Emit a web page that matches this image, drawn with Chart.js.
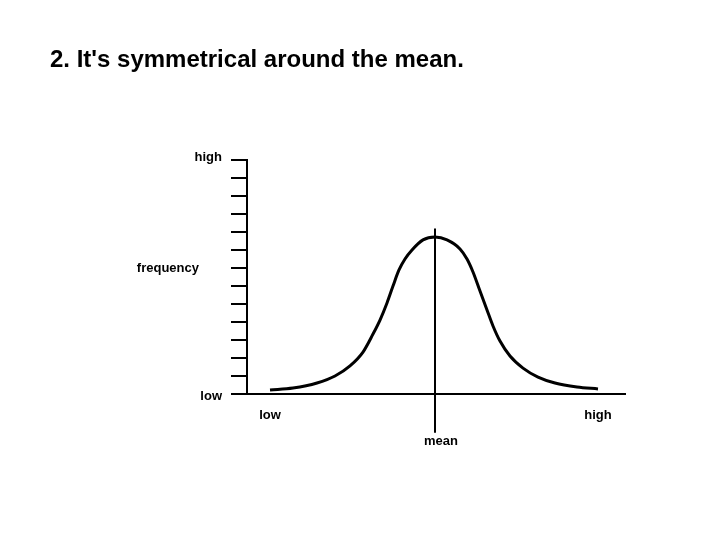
<!DOCTYPE html>
<html>
<head>
<meta charset="utf-8">
<script src="https://cdn.jsdelivr.net/npm/chart.js@4"></script>
<style>
    html, body { margin: 0; padding: 0; background: #fff; }
    #wrap { width: 720px; height: 540px; position: relative; }
</style>
</head>
<body>
<div id="wrap"><canvas id="normalChart" width="720" height="540"></canvas></div>
<script>
// title
var titleText = "2. It's symmetrical around the mean.";

// curve (x in score units, y in frequency ticks)
var curveX = [23, 46, 70, 88, 103, 116, 126, 133, 140, 146, 152, 158, 165, 176, 188, 200, 213, 220, 226, 233, 240, 246, 253, 263, 276, 291, 308, 330, 351];
var curveY = [0.22, 0.33, 0.61, 1.0, 1.56, 2.33, 3.33, 4.11, 5.06, 6.0, 6.89, 7.5, 8.0, 8.56, 8.72, 8.56, 8.06, 7.5, 6.78, 5.72, 4.67, 3.78, 2.94, 2.11, 1.44, 0.94, 0.61, 0.39, 0.28];

// mean marker
var meanX = 188;
var meanLineY = [9.2, -2.15];

// axis labels
var yAxisLabels = ['low', 'frequency', 'high'];
var yAxisLabelValues = [0, 7, 13];
var xAxisLabels = ['low', 'mean', 'high'];
var xAxisLabelValues = [23, 188, 351];

var curvePoints = curveX.map(function (x, i) { return { x: x, y: curveY[i] }; });
var meanPoints = meanLineY.map(function (y) { return { x: meanX, y: y }; });

var labelFont = 'bold 13px "Liberation Sans", Arial, sans-serif';

// draws the title and the word labels on the axes
var labelsPlugin = {
    id: 'labelsPlugin',
    afterDraw: function (chart) {
        var ctx = chart.ctx;
        var xs = chart.scales.x;
        var ys = chart.scales.y;
        ctx.save();
        ctx.fillStyle = '#000';
        ctx.font = 'bold 24px "Liberation Sans", Arial, sans-serif';
        ctx.textAlign = 'left';
        ctx.textBaseline = 'alphabetic';
        ctx.fillText(titleText, 50, 67);

        ctx.font = labelFont;
        ctx.textBaseline = 'middle';
        ctx.textAlign = 'right';
        yAxisLabels.forEach(function (t, i) {
            var py = ys.getPixelForValue(yAxisLabelValues[i]);
            // middle label sits further left
            var px = (t === 'frequency') ? ys.right - 48 : ys.right - 25;
            ctx.fillText(t, px, py + (i === 0 ? 2 : (i === 2 ? -3 : 0)));
        });

        ctx.textAlign = 'center';
        xAxisLabels.forEach(function (t, i) {
            var px = xs.getPixelForValue(xAxisLabelValues[i]);
            var py = (t === 'mean') ? xs.top + 47 : xs.top + 21;
            if (t === 'mean') px += 6;
            ctx.fillText(t, px, py);
        });
        ctx.restore();
    }
};

var ctx = document.getElementById('normalChart').getContext('2d');
var normalChart = new Chart(ctx, {
    type: 'line',
    data: {
        datasets: [{
            label: 'frequency',
            data: curvePoints,
            borderColor: '#000',
            borderWidth: 3,
            pointRadius: 0,
            fill: false,
            cubicInterpolationMode: 'monotone'
        }, {
            label: 'mean',
            data: meanPoints,
            borderColor: '#000',
            borderWidth: 2,
            pointRadius: 0,
            fill: false,
            clip: false
        }]
    },
    options: {
        responsive: false,
        animation: false,
        layout: {
            padding: { top: 160, right: 95, left: 0, bottom: 0 }
        },
        scales: {
            x: {
                type: 'linear',
                min: 0,
                max: 378,
                grid: { display: false },
                border: { display: true, color: '#000', width: 2 },
                ticks: { display: false },
                afterFit: function (scale) { scale.height = 146; }
            },
            y: {
                min: 0,
                max: 13,
                ticks: { display: false, stepSize: 1 },
                grid: {
                    display: true,
                    drawOnChartArea: false,
                    drawTicks: true,
                    tickLength: 16,
                    color: '#000',
                    lineWidth: 2
                },
                border: { display: true, color: '#000', width: 2 },
                afterFit: function (scale) { scale.width = 247; }
            }
        },
        plugins: {
            legend: { display: false },
            tooltip: { enabled: false }
        }
    },
    plugins: [labelsPlugin]
});
</script>
</body>
</html>
